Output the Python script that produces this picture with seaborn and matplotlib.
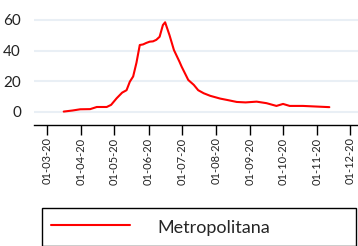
import pandas as pd
import matplotlib
matplotlib.use("Agg")
import matplotlib.pyplot as plt
import matplotlib.dates as mdates
import seaborn as sns

# Valores (média móvel, região Metropolitana)
datas = [
    "2020-03-16", "2020-03-24", "2020-03-31", "2020-04-09", "2020-04-15",
    "2020-04-24", "2020-04-28", "2020-05-03", "2020-05-08", "2020-05-12",
    "2020-05-15", "2020-05-18", "2020-05-21", "2020-05-24", "2020-05-27",
    "2020-05-30", "2020-06-02", "2020-06-05", "2020-06-08", "2020-06-11",
    "2020-06-14", "2020-06-16", "2020-06-20", "2020-06-24", "2020-06-29",
    "2020-07-01", "2020-07-07", "2020-07-12", "2020-07-16", "2020-07-21",
    "2020-07-27", "2020-08-05", "2020-08-12", "2020-08-20", "2020-08-28",
    "2020-09-07", "2020-09-16", "2020-09-25", "2020-10-01", "2020-10-07",
    "2020-10-19", "2020-10-31", "2020-11-12",
]
casos = [
    0.0, 0.7, 1.5, 1.6, 3.0,
    3.0, 4.4, 8.7, 12.4, 14.0,
    19.6, 23.0, 32.0, 43.6, 44.0,
    45.0, 45.8, 46.0, 47.0, 49.0,
    56.7, 58.5, 50.0, 40.3, 32.7,
    29.4, 20.7, 17.5, 14.0, 12.0,
    10.3, 8.5, 7.5, 6.3, 6.0,
    6.5, 5.5, 3.7, 5.0, 3.7,
    3.7, 3.3, 2.9,
]
regiao = "Metropolitana"

df = pd.DataFrame({"data": pd.to_datetime(datas), "casos": casos})

sns.set_theme(style="white")
plt.rcParams["font.family"] = ["Lato", "DejaVu Sans"]

fig = plt.figure(figsize=(3.58, 2.46), dpi=100)
ax = fig.add_axes([33.5 / 358, 1 - 125 / 246, (358 - 33.5) / 358, 125 / 246])

sns.lineplot(data=df, x="data", y="casos", color="#ff0000", linewidth=1.5,
             label=regiao, ax=ax, legend=False)

ax.set_xlim(pd.Timestamp("2020-02-17 14:00"), pd.Timestamp("2020-12-08"))
ax.set_ylim(-8.8, 73.1)
ax.set_yticks([0, 20, 40, 60])
ax.set_xlabel("")
ax.set_ylabel("")

ax.xaxis.set_major_locator(mdates.MonthLocator(bymonthday=1))
ax.xaxis.set_major_formatter(mdates.DateFormatter("%d-%m-%y"))
ax.tick_params(axis="x", bottom=True, labelsize=8, rotation=90, direction="out",
               length=7, width=1, color="black", pad=2, labelcolor="#222222")
ax.tick_params(axis="y", labelsize=11, length=0, pad=9, labelcolor="#222222")

ax.grid(axis="y", color="#e9eff5", linewidth=1.5)
for s in ["left", "right", "top"]:
    ax.spines[s].set_visible(False)
ax.spines["bottom"].set_color("black")
ax.spines["bottom"].set_linewidth(1)

handles = ax.get_lines()[:1]
fig.legend(handles, [regiao], loc="upper left",
           bbox_to_anchor=(41.5 / 358, 1 - 210 / 246, (356 - 41.5) / 358, 0.01),
           mode="expand", fancybox=False, edgecolor="black", framealpha=1,
           fontsize=13, handlelength=4.4, handletextpad=1.5, borderpad=0.5,
           handleheight=1.4, borderaxespad=0)
fig.legends[0].get_frame().set_linewidth(1)

fig.savefig("out.png", dpi=100)
